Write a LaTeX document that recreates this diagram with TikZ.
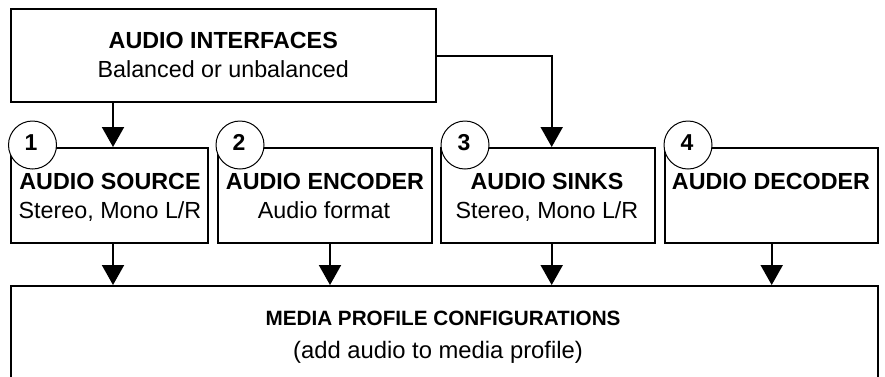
\documentclass[tikz,border=0pt]{standalone}
\usepackage{graphicx}
\usepackage{fontspec}
\setmainfont{Liberation Sans}
\usetikzlibrary{arrows.meta}

\tikzset{
  blk/.style={draw, line width=2pt, fill=white, rectangle, inner sep=0pt},
  ttl/.style={font=\fontsize{23.3}{28}\selectfont\bfseries, anchor=base, inner sep=0pt},
  sub/.style={font=\fontsize{23.3}{28}\selectfont, anchor=base, inner sep=0pt},
  num/.style={draw, line width=1pt, fill=white, circle, minimum size=48pt, inner sep=0pt},
  numtxt/.style={font=\fontsize{23}{28}\selectfont\bfseries, anchor=base, inner sep=0pt},
  flow/.style={line width=2pt, -{Triangle[width=22pt,length=20pt]}},
}

\begin{document}
\begin{tikzpicture}[x=1pt, y=-1pt]
  \useasboundingbox (0,0) rectangle (885,376);
  \clip (0,0) rectangle (885,376);

  % blocks
  \node[blk, minimum width=424.5pt, minimum height=93pt] (iface) at (223.25,55.5) {};
  \node[blk, minimum width=197pt, minimum height=95pt] (src) at (109.5,195.5) {};
  \node[blk, minimum width=214pt, minimum height=95pt] (enc) at (325,195.5) {};
  \node[blk, minimum width=214pt, minimum height=95pt] (snk) at (548,195.5) {};
  \node[blk, minimum width=213pt, minimum height=95pt] (dec) at (771.5,195.5) {};
  \node[blk, minimum width=867pt, minimum height=120pt] (media) at (444.5,346) {};

  % block texts
  \node[ttl] (ifaceT) at (223.25,48.3) {AUDIO INTERFACES};
  \node[sub] (ifaceS) at (223.25,77.7) {Balanced or unbalanced};
  \node[ttl] (srcT) at (110,189) {AUDIO SOURCE};
  \node[sub] (srcS) at (110,218.3) {Stereo, Mono L/R};
  \node[ttl] (encT) at (325,189) {AUDIO ENCODER};
  \node[sub] (encS) at (324,218.3) {Audio format};
  \node[ttl] (snkT) at (547,189) {AUDIO SINKS};
  \node[sub] (snkS) at (547,218.3) {Stereo, Mono L/R};
  \node[ttl] (decT) at (771,189) {AUDIO DECODER};
  \node[ttl, font=\fontsize{20.7}{25}\selectfont\bfseries] (mediaT) at (443,325.7) {MEDIA PROFILE CONFIGURATIONS};
  \node[sub, font=\fontsize{23.8}{28}\selectfont] (mediaS) at (438,358.3) {(add audio to media profile)};

  % numbered badges
  \node[num] (n1) at (32.5,145) {};
  \node[num] (n2) at (240,145) {};
  \node[num] (n3) at (465,145) {};
  \node[num] (n4) at (688,145) {};
  \node[numtxt] at (31,150.5) {1};
  \node[numtxt] at (239,150.5) {2};
  \node[numtxt] at (464,150.5) {3};
  \node[numtxt] at (687,150.5) {4};

  % arrow columns
  \coordinate (xa) at (113,0);
  \coordinate (xb) at (330,0);
  \coordinate (xc) at (551.7,0);
  \coordinate (xd) at (771.7,0);
  \coordinate (ybend) at (0,56);

  % connectors
  \draw[flow] (iface.south -| xa) -- (src.north -| xa);
  \draw[flow] (iface.east |- ybend) -| (snk.north -| xc);
  \draw[flow] (src.south -| xa) -- (media.north -| xa);
  \draw[flow] (enc.south -| xb) -- (media.north -| xb);
  \draw[flow] (snk.south -| xc) -- (media.north -| xc);
  \draw[flow] (dec.south -| xd) -- (media.north -| xd);
\end{tikzpicture}
\end{document}
